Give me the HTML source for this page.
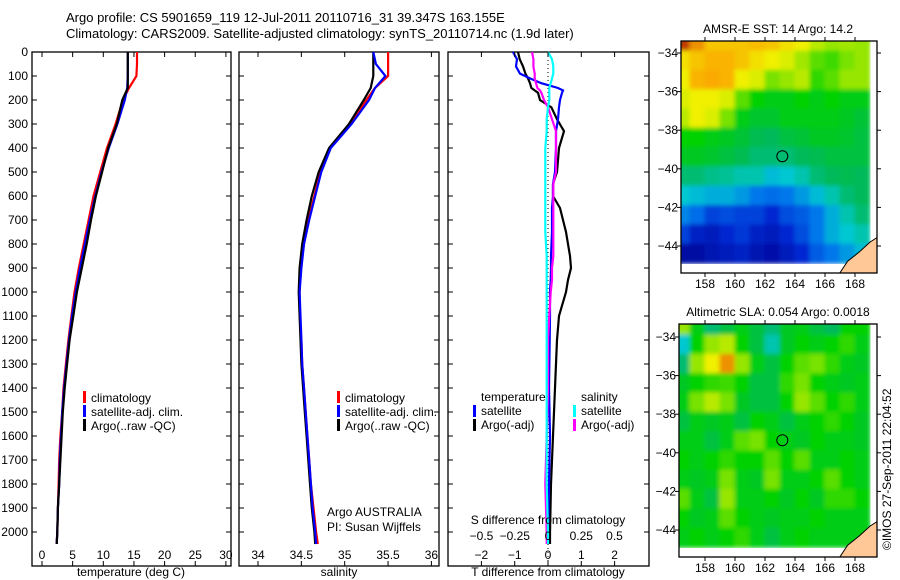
<!DOCTYPE html>
<html><head><meta charset="utf-8"><style>
html,body{margin:0;padding:0;background:#fff;}
svg{display:block;font-family:"Liberation Sans",sans-serif;}
text{fill:#000;}
</style></head><body>
<svg id="fig" width="900" height="580" viewBox="0 0 900 580" xmlns="http://www.w3.org/2000/svg">
<defs><filter id="soft" x="0" y="0" width="1" height="1"><feGaussianBlur stdDeviation="2"/></filter>
<clipPath id="c1"><rect x="681" y="41" width="196" height="232"/></clipPath>
<clipPath id="c2"><rect x="679" y="324" width="198" height="233"/></clipPath></defs>
<text x="66" y="22" font-size="13">Argo profile: CS 5901659_119 12-Jul-2011 20110716_31 39.347S 163.155E</text>
<text x="66" y="38" font-size="13">Climatology: CARS2009. Satellite-adjusted climatology: synTS_20110714.nc (1.9d later)</text>
<g id="g"></g>
<text transform="translate(891,550) rotate(-90)" font-size="12">©IMOS 27-Sep-2011 22:04:52</text>
</svg>
<script>
// ---- data ----
const depths=[0,50,100,150,200,300,400,500,600,700,800,900,1000,1100,1200,1300,1400,1500,1600,1700,1800,1900,2000,2050];
const tempClim=[15.5,15.5,15.4,14.2,13.2,12.0,10.6,9.5,8.4,7.6,6.8,6.0,5.3,4.8,4.3,3.9,3.5,3.3,3.0,2.8,2.7,2.6,2.5,2.4];
const tempSat=[14.0,14.0,14.0,13.9,13.5,12.3,10.9,9.7,8.7,7.8,7.0,6.2,5.5,4.9,4.4,4.0,3.6,3.3,3.1,2.9,2.8,2.6,2.5,2.4];
const tempArgo=[14.0,14.0,14.0,14.0,13.1,12.2,10.8,9.8,8.8,8.0,7.3,6.5,5.7,5.1,4.5,4.1,3.7,3.4,3.2,3.0,2.8,2.6,2.5,2.4];
const salClim=[35.5,35.5,35.5,35.35,35.25,35.07,34.83,34.72,34.65,34.58,34.53,34.49,34.48,34.48,34.5,34.51,34.53,34.55,34.57,34.59,34.61,34.64,34.67,34.69];
const salSat=[35.33,35.36,35.47,35.35,35.28,35.08,34.84,34.73,34.66,34.59,34.53,34.5,34.48,34.49,34.5,34.51,34.53,34.55,34.57,34.59,34.61,34.63,34.66,34.67];
const salArgo=[35.33,35.33,35.33,35.3,35.22,35.05,34.82,34.7,34.62,34.56,34.51,34.48,34.47,34.48,34.49,34.5,34.52,34.54,34.56,34.58,34.6,34.62,34.65,34.66];
const diffDepths=[0,30,60,90,110,130,150,160,170,200,230,280,330,400,500,550,600,650,750,850,900,950,1000,1100,1200,1400,1600,1800,2000,2050];
const dTArgo=[-0.9,-0.85,-0.75,-0.68,-0.6,-0.54,-0.5,-0.4,-0.3,-0.24,0.1,0.27,0.48,0.33,0.27,0.15,0.15,0.36,0.54,0.66,0.69,0.6,0.54,0.33,0.27,0.21,0.15,0.09,0.06,0.06];
const dTSat=[-1.05,-0.93,-0.96,-0.84,-0.54,-0.2,0.3,0.45,0.42,0.36,0.33,0.3,0.24,0.24,0.21,0.15,0.15,0.12,0.12,0.09,0.09,0.08,0.06,0.06,0.05,0.03,0.06,0.03,0.0,0.0];
const dSArgo=[-0.12,-0.11,-0.11,-0.1,-0.1,-0.09,-0.08,-0.06,-0.05,-0.03,0.0,0.03,0.06,0.06,0.06,0.04,0.04,0.04,0.04,0.04,0.03,0.03,0.02,0.01,0.0,0.0,-0.01,-0.02,-0.01,-0.01];
const dSSat=[0.0,0.03,0.04,0.04,0.03,0.02,0.01,0.01,0.01,0.01,0.0,-0.01,-0.01,-0.02,-0.02,-0.02,-0.02,-0.02,-0.02,-0.01,-0.01,-0.01,-0.01,-0.01,-0.01,-0.01,-0.01,-0.01,0.0,0.0];
const depthTicks=[0,100,200,300,400,500,600,700,800,900,1000,1100,1200,1300,1400,1500,1600,1700,1800,1900,2000];
const tempTicks=[0,5,10,15,20,25,30];
const salTicks=[34,34.5,35,35.5,36];
const dTTicks=[-2,-1,0,1,2];
const dSTicks=[-0.5,-0.25,0,0.25,0.5];
const dSTickLabels=["−0.5","−0.25","0","0.25","0.5"];
const latTicks=[-34,-36,-38,-40,-42,-44];
const lonTicks=[158,160,162,164,166,168];
const gridLon=[156.5,157.5,158.5,159.5,160.5,161.5,162.5,163.5,164.5,165.5,166.5,167.5,168.5];
const gridLat=[-33.4,-34.4,-35.4,-36.4,-37.4,-38.4,-39.4,-40.4,-41.4,-42.4,-43.4,-44.4];
const sst=[
[0.97,0.9,0.85,0.85,0.85,0.86,0.85,0.82,0.8,0.75,0.72,0.73,0.72],
[0.82,0.85,0.87,0.87,0.85,0.82,0.8,0.78,0.73,0.68,0.66,0.7,0.72],
[0.8,0.87,0.88,0.87,0.8,0.78,0.7,0.72,0.75,0.65,0.68,0.72,0.72],
[0.78,0.8,0.8,0.78,0.68,0.62,0.6,0.6,0.62,0.6,0.62,0.6,0.6],
[0.75,0.8,0.78,0.7,0.6,0.57,0.57,0.6,0.6,0.6,0.6,0.58,0.56],
[0.62,0.62,0.6,0.58,0.56,0.53,0.52,0.55,0.56,0.58,0.58,0.57,0.55],
[0.58,0.58,0.57,0.55,0.53,0.5,0.5,0.5,0.52,0.53,0.55,0.55,0.55],
[0.5,0.5,0.48,0.47,0.45,0.45,0.4,0.42,0.45,0.5,0.52,0.53,0.52],
[0.42,0.4,0.38,0.38,0.35,0.3,0.28,0.3,0.35,0.4,0.45,0.5,0.52],
[0.32,0.28,0.2,0.22,0.2,0.2,0.15,0.22,0.25,0.3,0.38,0.45,0.5],
[0.2,0.12,0.1,0.15,0.18,0.12,0.1,0.15,0.22,0.3,0.38,0.42,0.45],
[0.05,0.05,0.08,0.1,0.12,0.08,0.06,0.1,0.15,0.25,0.3,0.35,0.4]];
const sla=[
[0.72,0.6,0.5,0.55,0.6,0.55,0.5,0.58,0.6,0.55,0.52,0.62,0.62],
[0.42,0.62,0.72,0.75,0.62,0.55,0.45,0.58,0.62,0.6,0.62,0.65,0.6],
[0.5,0.72,0.8,0.9,0.72,0.6,0.55,0.62,0.68,0.7,0.65,0.6,0.58],
[0.58,0.62,0.65,0.66,0.62,0.55,0.55,0.65,0.7,0.62,0.6,0.58,0.6],
[0.6,0.7,0.75,0.7,0.58,0.55,0.55,0.62,0.72,0.68,0.62,0.65,0.6],
[0.55,0.6,0.58,0.6,0.55,0.62,0.6,0.55,0.6,0.62,0.65,0.62,0.58],
[0.6,0.6,0.55,0.6,0.68,0.7,0.62,0.6,0.58,0.62,0.6,0.6,0.58],
[0.62,0.6,0.62,0.65,0.62,0.62,0.68,0.62,0.68,0.6,0.6,0.62,0.6],
[0.6,0.58,0.6,0.7,0.6,0.58,0.7,0.6,0.6,0.62,0.68,0.62,0.6],
[0.68,0.6,0.55,0.72,0.6,0.6,0.62,0.58,0.62,0.58,0.65,0.65,0.62],
[0.62,0.58,0.6,0.68,0.62,0.6,0.58,0.6,0.6,0.62,0.6,0.6,0.6],
[0.6,0.62,0.6,0.62,0.65,0.6,0.55,0.6,0.62,0.6,0.6,0.6,0.6]];
const landLon=[166.9,167.5,168.3,169.0,169.6,169.6];
const landLat=[-45.5,-44.8,-44.3,-43.8,-43.5,-45.5];
const argoLon=163.155, argoLat=-39.347;

// ---- helpers ----
const NS="http://www.w3.org/2000/svg";const G=document.getElementById('g');
function mk(tag,attrs,parent){const e=document.createElementNS(NS,tag);for(const k in attrs)e.setAttribute(k,attrs[k]);(parent||G).appendChild(e);return e;}
function txt(x,y,s,anchor,size){const t=mk('text',{x:x,y:y,'font-size':size||12,'text-anchor':anchor||'start'});t.textContent=s;return t;}
const TOP=52;
const yD=d=>52+0.24*d;
const xT=v=>42+6.13*v;
const xS=v=>258+86.7*(v-34);
const xdT=v=>548+33.3*v;
const xdS=v=>548+133*v;

function frame(x0,x1,name){
  const r=mk('rect',{x:x0,y:TOP,width:x1-x0,height:566-TOP,fill:'none',stroke:'#000','stroke-width':1.3});
  
  
  depthTicks.forEach(d=>{mk('line',{x1:x0,x2:x0+5,y1:yD(d),y2:yD(d),stroke:'#000'});mk('line',{x1:x1-5,x2:x1,y1:yD(d),y2:yD(d),stroke:'#000'});});
}
function line(xs,ds,xf,col,name){
  const pts=xs.map((v,i)=>xf(v).toFixed(1)+','+yD(ds[i]).toFixed(1)).join(' ');
  const p=mk('polyline',{points:pts,fill:'none',stroke:col,'stroke-width':2.2});
  
  
}
function xticks(ticks,labels,xf,y0){ticks.forEach((t,i)=>{const x=xf(t);mk('line',{x1:x,x2:x,y1:566,y2:561,stroke:'#000'});mk('line',{x1:x,x2:x,y1:TOP,y2:TOP+5,stroke:'#000'});txt(x,y0,labels[i],'middle');});}

// panel 1
frame(32,231,'temperature-panel');
depthTicks.forEach(d=>{txt(28,yD(d)+4,String(d),'end');});
xticks(tempTicks,tempTicks.map(String),xT,559);
line(tempClim,depths,xT,'#ff0000','temp-climatology-line');
line(tempSat,depths,xT,'#0000ff','temp-satellite-line');
line(tempArgo,depths,xT,'#000000','temp-argo-line');
txt(131,576,'temperature (deg C)','middle');
// panel 2
frame(239,439,'salinity-panel');
xticks(salTicks,salTicks.map(String),xS,559);
line(salClim,depths,xS,'#ff0000','sal-climatology-line');
line(salArgo,depths,xS,'#000000','sal-argo-line');
line(salSat,depths,xS,'#0000ff','sal-satellite-line');
txt(339,576,'salinity','middle');
txt(327,516,'Argo AUSTRALIA');txt(327,531,'PI: Susan Wijffels');
function legend(mx,items){items.forEach((it,i)=>{const y=397+i*14;mk('rect',{x:mx,y:y-6,width:3,height:12,fill:it[0]});txt(mx+8,y+5,it[1]);});}
legend(83,[['#ff0000','climatology'],['#0000ff','satellite-adj. clim.'],['#000','Argo(..raw -QC)']]);
legend(337,[['#ff0000','climatology'],['#0000ff','satellite-adj. clim.'],['#000','Argo(..raw -QC)']]);
// panel 3
frame(448,649,'difference-panel');
mk('line',{x1:548,x2:548,y1:TOP,y2:566,stroke:'#000','stroke-dasharray':'1,3'});
line(dTArgo,diffDepths,xdT,'#000000','dT-argo-line');
line(dTSat,diffDepths,xdT,'#0000ff','dT-satellite-line');
line(dSArgo,diffDepths,xdS,'#ff00ff','dS-argo-line');
line(dSSat,diffDepths,xdS,'#00ffff','dS-satellite-line');
dTTicks.forEach(t=>{const x=xdT(t);mk('line',{x1:x,x2:x,y1:566,y2:561,stroke:'#000'});mk('line',{x1:x,x2:x,y1:TOP,y2:TOP+5,stroke:'#000'});txt(x,559,t<0?'−'+(-t):String(t),'middle');});
dSTicks.forEach((t,i)=>{txt(xdS(t),540,dSTickLabels[i],'middle');});
txt(548,524,'S difference from climatology','middle');
txt(548,576,'T difference from climatology','middle');
txt(481,401,'temperature');txt(581,401,'salinity');
[['#0000ff','satellite',473,415],['#000','Argo(-adj)',473,429],['#00ffff','satellite',573,415],['#ff00ff','Argo(-adj)',573,429]].forEach(a=>{mk('rect',{x:a[2],y:a[3]-10,width:3,height:12,fill:a[0]});txt(a[2]+8,a[3],a[1]);});

// maps
const stops=[[0,[0,0,140]],[0.15,[0,40,210]],[0.3,[0,120,235]],[0.42,[0,200,210]],[0.52,[0,185,90]],[0.62,[0,210,0]],[0.72,[150,230,0]],[0.8,[240,240,0]],[0.88,[250,170,0]],[1,[170,20,0]]];
function cmap(v){for(let i=1;i<stops.length;i++){if(v<=stops[i][0]){const a=stops[i-1],b=stops[i],f=(v-a[0])/(b[0]-a[0]);const c=a[1].map((x,k)=>Math.round(x+(b[1][k]-x)*f));return 'rgb('+c.join(',')+')';}}return 'rgb(170,20,0)';}
function map(cfg){
  const xL=lon=>cfg.x158+15*(lon-158), yL=lat=>cfg.y34+19.3*(-34-lat);
  const g=mk('g',{'clip-path':'url(#'+cfg.clip+')'});
  
  
  const hg=mk('g',{filter:'url(#soft)'},g);
  cfg.data.forEach((row,r)=>row.forEach((v,c)=>{
    const cell=mk('rect',{x:xL(gridLon[c]-0.5)-0.5,y:yL(gridLat[r]+0.5)-0.5,width:16,height:20.3,fill:cmap(v)},hg);
    
    
  }));
  const pts=landLon.map((l,i)=>xL(l).toFixed(1)+','+yL(landLat[i]).toFixed(1)).join(' ');
  const land=mk('polygon',{points:pts,fill:'#ffc896',stroke:'#000','stroke-width':1},g);
  
  
  const c=mk('circle',{cx:xL(argoLon),cy:yL(argoLat),r:5.5,fill:'none',stroke:'#000','stroke-width':1});
  
  
  mk('rect',{x:cfg.x0,y:cfg.y0,width:877-cfg.x0,height:cfg.y1-cfg.y0,fill:'none',stroke:'#000','stroke-width':1.3});
  latTicks.forEach(l=>{const y=yL(l);mk('line',{x1:cfg.x0-4,x2:cfg.x0,y1:y,y2:y,stroke:'#000'});mk('line',{x1:877,x2:881,y1:y,y2:y,stroke:'#000'});txt(cfg.x0-3,y+4,'−'+(-l),'end');});
  lonTicks.forEach(l=>{const x=xL(l);mk('line',{x1:x,x2:x,y1:cfg.y0-4,y2:cfg.y0,stroke:'#000'});mk('line',{x1:x,x2:x,y1:cfg.y1,y2:cfg.y1+4,stroke:'#000'});txt(x,cfg.y1+15,String(l),'middle');});
  txt(778,cfg.y0-8,cfg.title,'middle');
}
map({x0:681,y0:41,y1:273,x158:705,y34:53,clip:'c1',data:sst,name:'sst-map',title:'AMSR-E SST: 14 Argo: 14.2'});
map({x0:679,y0:324,y1:557,x158:705,y34:337,clip:'c2',data:sla,name:'sla-map',title:'Altimetric SLA: 0.054 Argo: 0.0018'});
</script>
</body></html>
